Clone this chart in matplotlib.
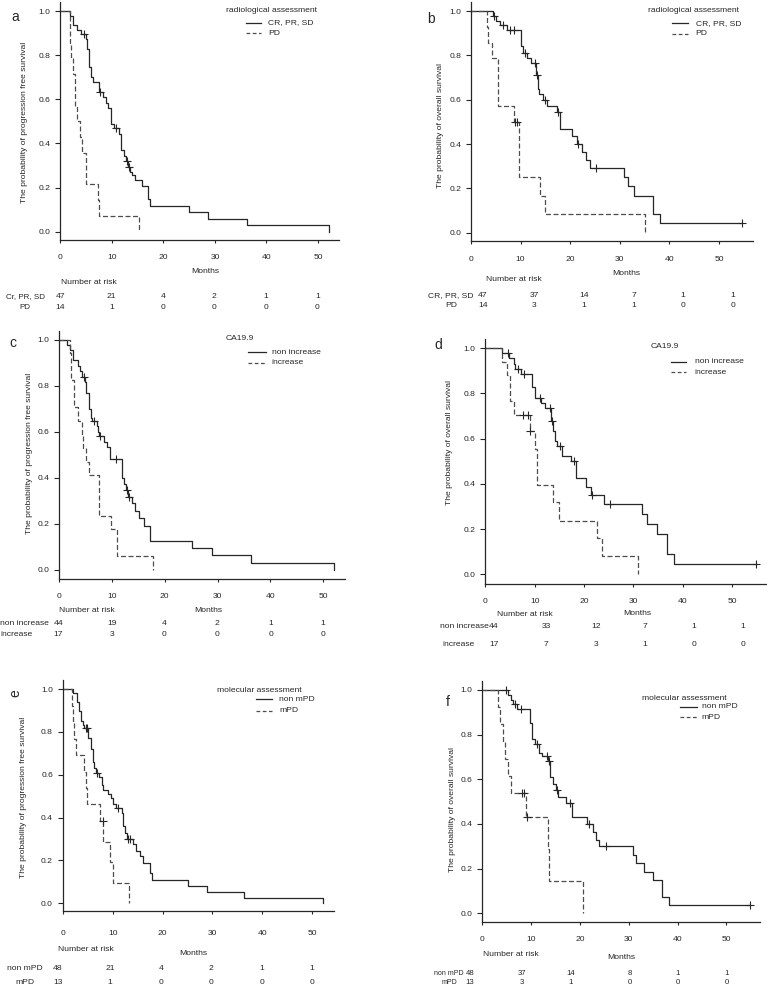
import matplotlib
matplotlib.use("Agg")
import matplotlib.pyplot as plt
from matplotlib.lines import Line2D
from matplotlib.ticker import FormatStrFormatter

plt.rcParams['font.family'] = ['Liberation Sans', 'DejaVu Sans']

# ---------------- data ----------------
months_ticks = [0, 10, 20, 30, 40, 50]
surv_ticks = [0.0, 0.2, 0.4, 0.6, 0.8, 1.0]

# a: PFS, radiological assessment
a_solid_t = [0, 1.8, 2.5, 3.3, 4.1, 5.0, 5.2, 5.6, 5.9, 6.4, 7.5, 8.2, 8.8, 9.3, 9.8, 10.5, 11.4, 11.8,
             12.4, 12.7, 13.1, 13.6, 14.0, 14.5, 15.8, 17.1, 17.5, 25.0, 28.6, 36.2, 52.1]
a_solid_s = [1.0, 0.979, 0.936, 0.915, 0.894, 0.872, 0.83, 0.745, 0.70, 0.677, 0.634, 0.61, 0.585, 0.56,
             0.49, 0.47, 0.443, 0.37, 0.345, 0.32, 0.293, 0.27, 0.258, 0.234, 0.205, 0.147, 0.118, 0.088,
             0.059, 0.029, 0.0]
a_solid_ct = [4.6, 7.7, 10.8, 12.9, 13.3]
a_solid_cs = [0.894, 0.634, 0.47, 0.32, 0.293]
a_dash_t = [0, 1.8, 1.9, 2.0, 2.4, 2.8, 3.3, 3.8, 4.2, 5.0, 7.3, 7.6, 15.2]
a_dash_s = [1.0, 0.929, 0.857, 0.786, 0.714, 0.571, 0.50, 0.429, 0.357, 0.214, 0.143, 0.071, 0.0]
a_dash_ct = []
a_dash_cs = []

# b: OS, radiological assessment
b_solid_t = [0, 4.4, 5.0, 5.9, 7.3, 10.0, 10.5, 11.3, 12.0, 13.2, 13.6, 13.8, 14.5, 15.3, 17.3, 18.0,
             20.4, 21.4, 22.4, 23.1, 23.9, 30.8, 31.6, 32.8, 36.7, 38.2, 54.6]
b_solid_s = [1.0, 0.979, 0.957, 0.936, 0.915, 0.84, 0.81, 0.787, 0.766, 0.71, 0.65, 0.625, 0.60, 0.57,
             0.545, 0.468, 0.435, 0.40, 0.366, 0.33, 0.293, 0.25, 0.21, 0.166, 0.083, 0.042, 0.042]
b_solid_ct = [4.6, 6.5, 7.8, 8.6, 10.9, 12.9, 13.4, 15.0, 17.6, 21.6, 25.3, 54.6]
b_solid_cs = [0.979, 0.936, 0.915, 0.915, 0.81, 0.766, 0.71, 0.60, 0.545, 0.40, 0.293, 0.042]
b_dash_t = [0, 3.2, 3.5, 4.2, 5.5, 8.7, 9.7, 14.0, 15.0, 35.0]
b_dash_s = [1.0, 0.929, 0.857, 0.786, 0.571, 0.50, 0.25, 0.167, 0.083, 0.0]
b_dash_ct = [8.9, 9.3]
b_dash_cs = [0.5, 0.5]

# c: PFS, CA19.9
c_solid_t = [0, 1.6, 2.0, 2.7, 3.5, 3.9, 4.3, 5.0, 5.1, 5.6, 6.0, 6.2, 7.1, 7.4, 7.6, 8.6, 9.1, 9.6,
             11.85, 12.3, 12.6, 13.1, 13.9, 14.4, 15.2, 16.1, 17.3, 25.1, 28.9, 36.3, 52.1]
c_solid_s = [1.0, 0.977, 0.955, 0.91, 0.886, 0.864, 0.84, 0.818, 0.77, 0.70, 0.66, 0.648, 0.625, 0.60,
             0.582, 0.557, 0.532, 0.482, 0.40, 0.373, 0.347, 0.318, 0.29, 0.255, 0.224, 0.19, 0.128,
             0.096, 0.064, 0.032, 0.0]
c_solid_ct = [4.7, 6.6, 7.75, 10.7, 12.9, 13.2]
c_solid_cs = [0.84, 0.648, 0.582, 0.482, 0.347, 0.318]
c_dash_t = [0, 2.0, 2.2, 2.8, 3.5, 4.3, 4.6, 5.1, 5.6, 7.6, 9.8, 10.9, 17.8]
c_dash_s = [1.0, 0.941, 0.824, 0.706, 0.647, 0.588, 0.529, 0.471, 0.412, 0.235, 0.176, 0.059, 0.0]
c_dash_ct = []
c_dash_cs = []

# d: OS, CA19.9
d_solid_t = [0, 3.4, 4.9, 5.8, 6.1, 7.2, 9.5, 10.0, 11.35, 12.0, 13.3, 13.7, 14.05, 14.5, 15.5, 17.4,
             18.3, 20.5, 21.5, 24.0, 31.8, 32.8, 34.9, 36.9, 38.2, 54.9]
d_solid_s = [1.0, 0.977, 0.955, 0.932, 0.909, 0.886, 0.83, 0.78, 0.757, 0.735, 0.68, 0.632, 0.59, 0.567,
             0.525, 0.50, 0.425, 0.385, 0.35, 0.31, 0.266, 0.221, 0.177, 0.088, 0.044, 0.044]
d_solid_ct = [4.6, 6.6, 7.8, 11.0, 13.2, 13.5, 15.1, 17.9, 21.7, 25.3, 54.9]
d_solid_cs = [0.977, 0.909, 0.886, 0.78, 0.735, 0.68, 0.567, 0.50, 0.35, 0.31, 0.044]
d_dash_t = [0, 3.3, 4.4, 5.1, 5.9, 9.0, 10.0, 10.5, 13.7, 14.9, 22.6, 23.6, 30.9]
d_dash_s = [1.0, 0.941, 0.882, 0.765, 0.706, 0.635, 0.556, 0.397, 0.318, 0.238, 0.159, 0.079, 0.0]
d_dash_ct = [7.6, 8.6, 9.1]
d_dash_cs = [0.706, 0.706, 0.635]

# e: PFS, molecular assessment
e_solid_t = [0, 2.0, 2.8, 3.2, 3.7, 4.0, 4.3, 5.1, 5.6, 6.0, 6.3, 6.6, 7.3, 7.8, 8.1, 9.1, 9.6, 10.1,
             10.7, 11.8, 12.1, 12.5, 12.9, 14.1, 14.7, 15.4, 16.0, 17.4, 17.8, 25.2, 29.0, 36.4, 52.2]
e_solid_s = [1.0, 0.98, 0.94, 0.896, 0.85, 0.83, 0.816, 0.77, 0.72, 0.66, 0.63, 0.61, 0.59, 0.55, 0.53,
             0.51, 0.49, 0.465, 0.443, 0.42, 0.36, 0.33, 0.30, 0.275, 0.245, 0.22, 0.19, 0.14, 0.11,
             0.082, 0.055, 0.027, 0.0]
e_solid_ct = [4.7, 4.9, 6.8, 11.0, 13.0, 13.4]
e_solid_cs = [0.816, 0.816, 0.61, 0.443, 0.30, 0.30]
e_dash_t = [0, 1.9, 2.1, 2.3, 2.6, 4.2, 4.6, 4.9, 7.5, 8.1, 9.5, 10.1, 13.2]
e_dash_s = [1.0, 0.923, 0.846, 0.769, 0.692, 0.615, 0.538, 0.462, 0.385, 0.288, 0.192, 0.096, 0.0]
e_dash_ct = [8.0]
e_dash_cs = [0.385]

# f: OS, molecular assessment
f_solid_t = [0, 5.3, 5.8, 6.3, 7.2, 9.8, 10.2, 10.7, 11.7, 12.2, 13.5, 13.9, 14.5, 15.0, 15.6, 17.2,
             18.4, 21.4, 22.7, 23.4, 24.0, 30.9, 31.4, 33.1, 35.0, 36.8, 38.3, 54.8]
f_solid_s = [1.0, 0.979, 0.957, 0.936, 0.915, 0.85, 0.78, 0.76, 0.72, 0.705, 0.68, 0.61, 0.58, 0.55,
             0.52, 0.495, 0.43, 0.40, 0.366, 0.33, 0.30, 0.26, 0.225, 0.187, 0.15, 0.075, 0.037, 0.037]
f_solid_ct = [4.8, 6.8, 7.9, 11.2, 13.3, 13.7, 15.3, 18.0, 21.8, 25.4, 54.8]
f_solid_cs = [1.0, 0.936, 0.915, 0.76, 0.705, 0.68, 0.55, 0.495, 0.40, 0.30, 0.037]
f_dash_t = [0, 3.2, 3.7, 4.2, 4.6, 5.3, 5.8, 8.9, 13.4, 13.6, 20.6]
f_dash_s = [1.0, 0.923, 0.846, 0.769, 0.692, 0.615, 0.538, 0.431, 0.287, 0.144, 0.0]
f_dash_ct = [8.2, 8.6, 9.2]
f_dash_cs = [0.538, 0.538, 0.431]

# number at risk
a_risk = [[47, 21, 4, 2, 1, 1], [14, 1, 0, 0, 0, 0]]
b_risk = [[47, 37, 14, 7, 1, 1], [14, 3, 1, 1, 0, 0]]
c_risk = [[44, 19, 4, 2, 1, 1], [17, 3, 0, 0, 0, 0]]
d_risk = [[44, 33, 12, 7, 1, 1], [17, 7, 3, 1, 0, 0]]
e_risk = [[48, 21, 4, 2, 1, 1], [13, 1, 0, 0, 0, 0]]
f_risk = [[48, 37, 14, 8, 1, 1], [13, 3, 1, 0, 0, 0]]

radio_title = "radiological assessment"
radio_groups = ["CR, PR, SD", "PD"]
ca_title = "CA19.9"
ca_groups = ["non increase", "increase"]
mol_title = "molecular assessment"
mol_groups = ["non mPD", "mPD"]
pfs_label = "The probability of progression free survival"
os_label = "The probability of overall survival"

# ---------------- layout (pixels of the 767x992 picture) ----------------
W, H = 767, 992
INK = '#262626'
GREY = '#4d4d4d'
FS = 6.1

fig = plt.figure(figsize=(W / 100, H / 100), dpi=100)


def fx(px):
    return px / W


def fy(py):
    return 1 - py / H


def txt(x, y, s, size=FS, ha='left', **kw):
    fig.text(fx(x), fy(y), s, fontsize=size, ha=ha, va='center', color=INK, **kw)


def legend_entry(x1, x2, y, style, color):
    fig.add_artist(Line2D([fx(x1), fx(x2)], [fy(y), fy(y)], transform=fig.transFigure,
                          color=color, lw=0.9, linestyle=style))


panels = [
    dict(letter='a', lpos=(15, 17), box=(60.3, 318, 11, 231.7, 240, 339, 2), xpad=7.6,
         solid=(a_solid_t, a_solid_s, a_solid_ct, a_solid_cs), dash=(a_dash_t, a_dash_s, a_dash_ct, a_dash_cs),
         ylab=pfs_label, ylpos=(25, 122), months=(205, 271.7), nar=(60.7, 282.3),
         rows=(296.7, 307.7), cols=[60.3, 111.7, 163.3, 214.3, 265.7, 317.3], tfs=(5.8, FS),
         rowlab=["Cr, PR, SD", "PD"], rlx=(25.5, 24.5), rlha='center', risk=a_risk,
         leg=dict(title=radio_title, names=radio_groups, tx=226, ty=11, lx=(246, 261), ly=(22.7, 33.3), nx=268.3)),
    dict(letter='b', lpos=(431, 19), box=(471, 719, 11, 232.7, 241, 753, 2), xpad=8.0,
         solid=(b_solid_t, b_solid_s, b_solid_ct, b_solid_cs), dash=(b_dash_t, b_dash_s, b_dash_ct, b_dash_cs),
         ylab=os_label, ylpos=(440.3, 125), months=(626.3, 274), nar=(486.3, 279.3),
         rows=(295.3, 305.3), cols=[483, 534, 584, 634, 683, 733], tfs=(FS, FS),
         rowlab=radio_groups, rlx=(451, 451), rlha='center', risk=b_risk,
         leg=dict(title=radio_title, names=radio_groups, tx=648, ty=11, lx=(672.3, 688), ly=(23.3, 33.7), nx=695.7)),
    dict(letter='c', lpos=(13.3, 343.3), box=(59, 323.3, 339.7, 570, 579.3, 345, 331), xpad=7.5,
         solid=(c_solid_t, c_solid_s, c_solid_ct, c_solid_cs), dash=(c_dash_t, c_dash_s, c_dash_ct, c_dash_cs),
         ylab=pfs_label, ylpos=(29.3, 453), months=(208.3, 610), nar=(59, 610),
         rows=(623.7, 634), cols=[58.5, 112, 164, 217, 271, 323], tfs=(FS, FS),
         rowlab=ca_groups, rlx=(0.5, 0.5), rlha='left', risk=c_risk,
         leg=dict(title=ca_title, names=ca_groups, tx=226, ty=338.3, lx=(247.7, 265.7), ly=(352.3, 363), nx=271.7)),
    dict(letter='d', lpos=(438, 345), box=(485.3, 732, 348.3, 574.3, 584, 766, 339), xpad=7.3,
         solid=(d_solid_t, d_solid_s, d_solid_ct, d_solid_cs), dash=(d_dash_t, d_dash_s, d_dash_ct, d_dash_cs),
         ylab=os_label, ylpos=(449, 442.5), months=(637, 613.3), nar=(497, 615),
         rows=(626.3, 645), cols=[494, 546, 596, 645, 694, 743], tfs=(FS, FS),
         rowlab=ca_groups, rlx=(440, 442), rlha='left', risk=d_risk,
         leg=dict(title=ca_title, names=ca_groups, tx=650.7, ty=346.7, lx=(671.3, 686.3), ly=(361.7, 372.3), nx=694.7)),
    dict(letter='e', lpos=(15, 693), box=(62.7, 312.3, 689, 903.3, 911.3, 334, 680), xpad=11.2,
         solid=(e_solid_t, e_solid_s, e_solid_ct, e_solid_cs), dash=(e_dash_t, e_dash_s, e_dash_ct, e_dash_cs),
         ylab=pfs_label, ylpos=(23.3, 797.5), months=(193.3, 953.3), nar=(58.3, 949.3),
         rows=(968, 982), cols=[58, 110, 161, 211, 262, 312], tfs=(FS, FS),
         rowlab=mol_groups, rlx=(24.5, 25), rlha='center', risk=e_risk,
         leg=dict(title=mol_title, names=mol_groups, tx=216.7, ty=690, lx=(256, 271.7), ly=(699.3, 711), nx=279.3)),
    dict(letter='f', lpos=(448, 701.7), box=(482.3, 726.3, 690, 913.3, 921.7, 759.7, 681), xpad=7.5,
         solid=(f_solid_t, f_solid_s, f_solid_ct, f_solid_cs), dash=(f_dash_t, f_dash_s, f_dash_ct, f_dash_cs),
         ylab=os_label, ylpos=(452.3, 809), months=(621.3, 957.7), nar=(483.3, 955),
         rows=(973.3, 982.7), cols=[470, 522, 571, 630, 678, 727], tfs=(5.0, 5.6),
         rowlab=mol_groups, rlx=(448.5, 449), rlha='center', risk=f_risk,
         leg=dict(title=mol_title, names=mol_groups, tx=641.7, ty=698.6, lx=(680, 697), ly=(706.5, 717.3), nx=701.7)),
]

for p in panels:
    x0, x50, y1, y0, bottom, right, top = p['box']
    ax = fig.add_axes([fx(x0), fy(bottom), (right - x0) / W, (bottom - top) / H])
    ax.set_xlim(0, (right - x0) / (x50 - x0) * 50)
    ax.set_ylim((y0 - bottom) / (y0 - y1), (y0 - top) / (y0 - y1))
    ax.patch.set_alpha(0)
    for side in ['top', 'right']:
        ax.spines[side].set_visible(False)
    for side in ['left', 'bottom']:
        ax.spines[side].set_color(INK)
        ax.spines[side].set_linewidth(0.9)

    for (t, s, ct, cs), style, col in [(p['solid'], '-', INK), (p['dash'], (0, (4, 2)), GREY)]:
        ax.step(t, s, where='post', color=col, lw=0.9, linestyle=style, clip_on=False)
        if ct:
            ax.plot(ct, cs, linestyle='none', marker='+', ms=5.5, mew=0.8, color=INK, clip_on=False)

    ax.set_xticks(months_ticks)
    ax.set_yticks(surv_ticks)
    ax.yaxis.set_major_formatter(FormatStrFormatter('%.1f'))
    ax.tick_params(axis='x', length=2.5, width=0.8, pad=p['xpad'], labelsize=FS, colors=INK)
    ax.tick_params(axis='y', length=3.6, width=0.8, pad=3.4, labelsize=FS, colors=INK)

    # panel letter
    lx, ly = p['lpos']
    if p['letter'] == 'e':
        txt(lx, ly, 'e', size=10, ha='center', rotation=90)
    else:
        txt(lx, ly, p['letter'], size=10, ha='center')

    # axis titles
    txt(p['ylpos'][0], p['ylpos'][1], p['ylab'], ha='center', rotation=90)
    txt(p['months'][0], p['months'][1], "Months", ha='center')

    # number at risk table
    lab_fs, num_fs = p['tfs']
    txt(p['nar'][0], p['nar'][1], "Number at risk")
    for ri, (rowy, lab, lxr) in enumerate(zip(p['rows'], p['rowlab'], p['rlx'])):
        txt(lxr, rowy, lab, size=lab_fs, ha=p['rlha'])
        for cx, n in zip(p['cols'], p['risk'][ri]):
            txt(cx, rowy, str(n), size=num_fs, ha='center')

    # legend
    lg = p['leg']
    txt(lg['tx'], lg['ty'], lg['title'])
    legend_entry(lg['lx'][0], lg['lx'][1], lg['ly'][0], '-', INK)
    legend_entry(lg['lx'][0], lg['lx'][1], lg['ly'][1], (0, (3, 2)), GREY)
    txt(lg['nx'], lg['ly'][0], lg['names'][0])
    txt(lg['nx'], lg['ly'][1], lg['names'][1])

fig.savefig("out.png", dpi=100)
